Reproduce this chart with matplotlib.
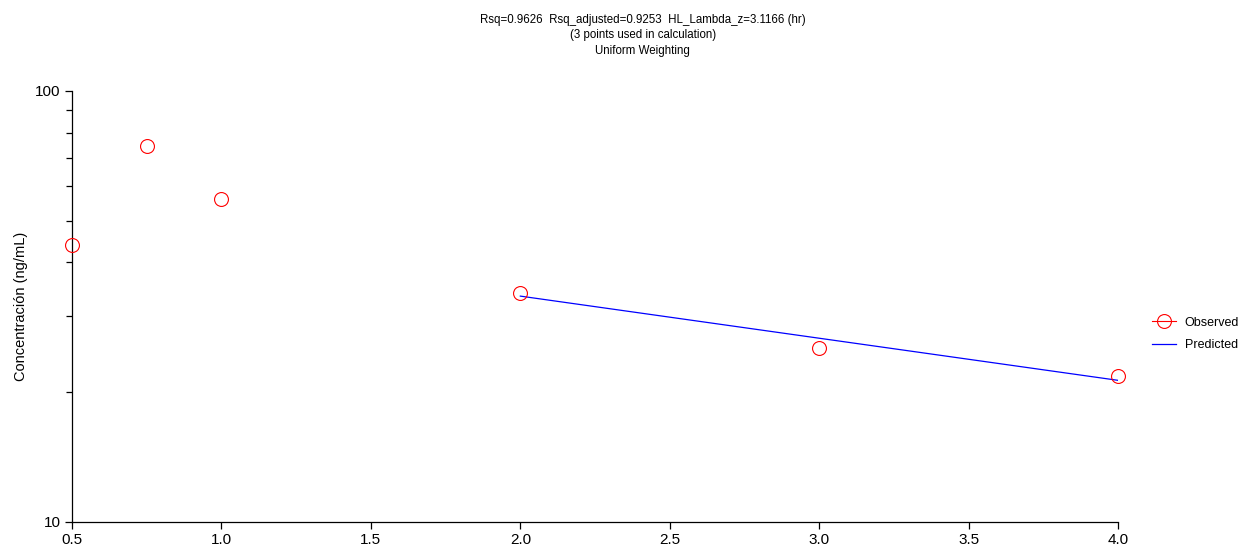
import matplotlib.pyplot as plt
from matplotlib.lines import Line2D
from matplotlib.ticker import FixedLocator, NullFormatter

plt.rcParams['font.family'] = ['Liberation Sans', 'DejaVu Sans']

# observed data
time_obs = [0.5, 0.75, 1.0, 2.0, 3.0, 4.0]
conc_obs = [43.9, 74.5, 56.1, 34.0, 25.3, 21.8]

# terminal phase fit
time_pred = [2.0, 4.0]
conc_pred = [33.4, 21.3]

title_lines = [
    "Rsq=0.9626  Rsq_adjusted=0.9253  HL_Lambda_z=3.1166 (hr)",
    "(3 points used in calculation)",
    "Uniform Weighting",
]

fig = plt.figure(figsize=(12.41, 5.5), dpi=100)
ax = fig.add_axes([0.058, 0.051, 0.843, 0.784])

ax.plot(time_pred, conc_pred, color='blue', linewidth=0.9)
ax.plot(time_obs, conc_obs, linestyle='none', marker='o', markersize=10,
        markerfacecolor='none', markeredgecolor='red', markeredgewidth=0.8,
        clip_on=False, zorder=3)

ax.set_yscale('log')
ax.set_ylim(10, 100)
ax.set_xlim(0.5, 4.0)
ax.set_xticks([0.5, 1.0, 1.5, 2.0, 2.5, 3.0, 3.5, 4.0])
ax.set_xticklabels(["0.5", "1.0", "1.5", "2.0", "2.5", "3.0", "3.5", "4.0"])
ax.yaxis.set_major_locator(FixedLocator([10, 100]))
ax.set_yticklabels(["10", "100"])
ax.yaxis.set_minor_locator(FixedLocator([20, 30, 40, 50, 60, 70, 80, 90]))
ax.yaxis.set_minor_formatter(NullFormatter())

ax.spines['top'].set_visible(False)
ax.spines['right'].set_visible(False)
for s in ['left', 'bottom']:
    ax.spines[s].set_linewidth(0.9)
ax.tick_params(axis='both', which='major', length=5, width=0.9, labelsize=11, pad=3)
ax.tick_params(axis='y', which='minor', length=4, width=0.9)

ax.set_ylabel("Concentración (ng/mL)", fontsize=10.5)
ax.yaxis.set_label_coords(-0.042, 0.5)

fig.text(0.518, 0.975, "\n".join(title_lines), ha='center', va='top',
         fontsize=8.3, linespacing=1.4)

handles = [
    Line2D([], [], color='red', linewidth=0.8, marker='o', markersize=10,
           markerfacecolor='none', markeredgecolor='red', markeredgewidth=0.8),
    Line2D([], [], color='blue', linewidth=0.9),
]
fig.legend(handles, ["Observed", "Predicted"], loc='center left',
           bbox_to_anchor=(0.9235, 0.393), frameon=False, borderpad=0,
           fontsize=9, handlelength=1.9, handletextpad=0.7,
           labelspacing=0.85, numpoints=1)

fig.savefig("out.png", dpi=100)
